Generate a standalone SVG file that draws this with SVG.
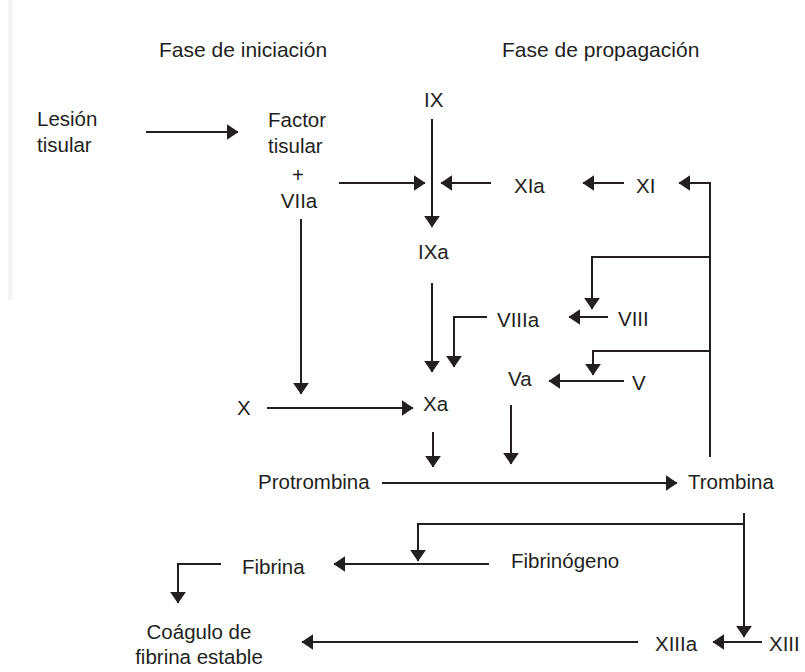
<svg xmlns="http://www.w3.org/2000/svg" width="805" height="672" viewBox="0 0 805 672">
  <defs>
    <marker id="ah" markerUnits="userSpaceOnUse" markerWidth="12" markerHeight="16" viewBox="0 0 11 15" refX="10.5" refY="7.5" orient="auto">
      <path d="M0,0 L11,7.5 L0,15 z" fill="#231f20"/>
    </marker>
    <style>
      text { font-family: "Liberation Sans", Arial, Helvetica, sans-serif; font-size: 20.5px; fill: #231f20; }
      .title { font-size: 21px; }
      .c path { fill: none; stroke: #231f20; stroke-width: 2; }
      .c path.a { marker-end: url(#ah); }
    </style>
  </defs>
  <rect width="805" height="672" fill="#ffffff"/>
  <rect x="8" y="0" width="5" height="300" fill="#f6f6f6"/>

  <g id="titles">
    <text class="title" x="159" y="57">Fase de iniciación</text>
    <text class="title" x="502" y="57">Fase de propagación</text>
  </g>

  <g id="lesion"><text x="37" y="126">Lesión</text><text x="37" y="152">tisular</text></g>
  <g id="factor-tisular">
    <text x="268" y="127">Factor</text>
    <text x="268" y="153">tisular</text>
    <text x="298" y="182" text-anchor="middle">+</text>
    <text x="299" y="208" text-anchor="middle">VIIa</text>
  </g>
  <g id="IX"><text x="424" y="107">IX</text></g>
  <g id="XIa"><text x="514" y="193">XIa</text></g>
  <g id="XI"><text x="636" y="193">XI</text></g>
  <g id="IXa"><text x="418" y="259">IXa</text></g>
  <g id="VIIIa"><text x="497" y="327">VIIIa</text></g>
  <g id="VIII"><text x="618" y="326">VIII</text></g>
  <g id="Va"><text x="508" y="386">Va</text></g>
  <g id="V"><text x="632" y="390">V</text></g>
  <g id="X"><text x="237" y="415">X</text></g>
  <g id="Xa"><text x="423" y="411">Xa</text></g>
  <g id="protrombina"><text x="258" y="489">Protrombina</text></g>
  <g id="trombina"><text x="688" y="489">Trombina</text></g>
  <g id="fibrina"><text x="242" y="574">Fibrina</text></g>
  <g id="fibrinogeno"><text x="511" y="568">Fibrinógeno</text></g>
  <g id="coagulo">
    <text x="199" y="639" text-anchor="middle">Coágulo de</text>
    <text x="199" y="664" text-anchor="middle">fibrina estable</text>
  </g>
  <g id="XIIIa"><text x="655" y="651">XIIIa</text></g>
  <g id="XIII"><text x="769" y="651">XIII</text></g>

  <g id="connectors" class="c">
    <path class="a" d="M146,132 H238"/>
    <path class="a" d="M339,183 H425"/>
    <path class="a" d="M432,119 V227"/>
    <path class="a" d="M491,183 H441"/>
    <path class="a" d="M624,183 H583"/>
    <path class="a" d="M710,457 V183 H679"/>
    <path class="a" d="M710,257 H592 V309"/>
    <path class="a" d="M608,317 H569"/>
    <path class="a" d="M710,351 H593 V375"/>
    <path class="a" d="M624,381 H549"/>
    <path class="a" d="M432,283 V372"/>
    <path class="a" d="M487,317 H454 V367"/>
    <path class="a" d="M301,219 V394"/>
    <path class="a" d="M267,408 H413"/>
    <path class="a" d="M433,432 V467"/>
    <path class="a" d="M511,405 V464"/>
    <path class="a" d="M382,483 H677"/>
    <path class="a" d="M744,513 V637"/>
    <path class="a" d="M744,524 H418 V561"/>
    <path class="a" d="M489,564 H334"/>
    <path class="a" d="M221,564 H178 V603"/>
    <path class="a" d="M762,642 H713"/>
    <path class="a" d="M638,642 H302"/>
  </g>
</svg>
